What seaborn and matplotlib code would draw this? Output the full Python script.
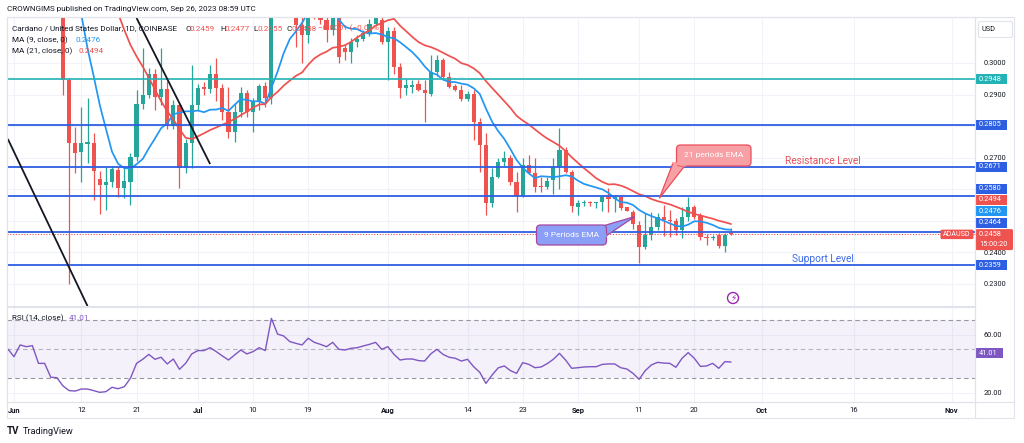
import numpy as np
import pandas as pd
import matplotlib
matplotlib.use("Agg")
import matplotlib.pyplot as plt
import matplotlib.dates as mdates
import matplotlib.ticker as mticker
from matplotlib.patches import FancyBboxPatch, Rectangle, Polygon, Circle
import seaborn as sns

# ---------------- data ----------------
start_date = "2023-05-29"
opens = [0.3750, 0.3720, 0.3700, 0.3630, 0.3580, 0.3700, 0.3680, 0.3700, 0.3450, 0.3440, 0.3300,
         0.3320, 0.2946, 0.2746, 0.2719, 0.2742, 0.2746, 0.2633, 0.2614, 0.2624, 0.2661, 0.2605,
         0.2624, 0.2703, 0.2870, 0.2899, 0.2964, 0.2893, 0.2918, 0.2801, 0.2867, 0.2666, 0.2746,
         0.2867, 0.2924, 0.2918, 0.2964, 0.2922, 0.2846, 0.2782, 0.2844, 0.2904, 0.2846, 0.2878,
         0.2927, 0.2888, 0.3380, 0.3300, 0.3310, 0.3250, 0.3120, 0.3089, 0.3180, 0.3165, 0.3135,
         0.3105, 0.3180, 0.3047, 0.3036, 0.3068, 0.3076, 0.3094, 0.3125, 0.3136, 0.3068, 0.3101,
         0.2988, 0.2920, 0.2925, 0.2932, 0.2914, 0.2901, 0.2971, 0.3010, 0.2957, 0.2927, 0.2914,
         0.2886, 0.2902, 0.2812, 0.2740, 0.2556, 0.2638, 0.2687, 0.2700, 0.2624, 0.2579, 0.2677,
         0.2651, 0.2611, 0.2608, 0.2629, 0.2672, 0.2724, 0.2654, 0.2545, 0.2555, 0.2559, 0.2555,
         0.2559, 0.2576, 0.2570, 0.2577, 0.2543, 0.2529, 0.2487, 0.2416, 0.2455, 0.2482, 0.2511,
         0.2503, 0.2500, 0.2471, 0.2511, 0.2545, 0.2515, 0.2448, 0.2445, 0.2455, 0.2420, 0.2459]
highs = [0.3780, 0.3760, 0.3720, 0.3660, 0.3740, 0.3730, 0.3760, 0.3720, 0.3520, 0.3480, 0.3380,
         0.3360, 0.2952, 0.2798, 0.2862, 0.2888, 0.2777, 0.2659, 0.2670, 0.2673, 0.2670, 0.2670,
         0.2715, 0.2914, 0.3047, 0.2985, 0.2980, 0.3047, 0.2942, 0.2883, 0.2872, 0.2760, 0.2994,
         0.2935, 0.2940, 0.2994, 0.3015, 0.2935, 0.2925, 0.2870, 0.2925, 0.2915, 0.2890, 0.2935,
         0.2940, 0.3420, 0.3440, 0.3340, 0.3330, 0.3260, 0.3150, 0.3190, 0.3220, 0.3180, 0.3170,
         0.3180, 0.3190, 0.3057, 0.3080, 0.3090, 0.3105, 0.3140, 0.3170, 0.3160, 0.3115, 0.3115,
         0.3000, 0.2950, 0.2945, 0.2945, 0.2945, 0.3025, 0.3025, 0.3015, 0.2970, 0.2935, 0.2930,
         0.2910, 0.2915, 0.2825, 0.2777, 0.2668, 0.2700, 0.2720, 0.2710, 0.2655, 0.2700, 0.2710,
         0.2700, 0.2640, 0.2640, 0.2700, 0.2795, 0.2735, 0.2660, 0.2565, 0.2565, 0.2562, 0.2560,
         0.2582, 0.2605, 0.2582, 0.2582, 0.2545, 0.2533, 0.2500, 0.2524, 0.2529, 0.2524, 0.2550,
         0.2535, 0.2510, 0.2545, 0.2577, 0.2550, 0.2524, 0.2459, 0.2455, 0.2460, 0.2462, 0.2477]
lows = [0.3680, 0.3660, 0.3600, 0.3520, 0.3560, 0.3650, 0.3660, 0.3400, 0.3350, 0.3280, 0.3260,
        0.2899, 0.2300, 0.2651, 0.2624, 0.2683, 0.2566, 0.2521, 0.2535, 0.2608, 0.2577, 0.2573,
        0.2550, 0.2690, 0.2855, 0.2890, 0.2851, 0.2867, 0.2790, 0.2791, 0.2603, 0.2650, 0.2666,
        0.2850, 0.2900, 0.2905, 0.2880, 0.2820, 0.2761, 0.2750, 0.2830, 0.2830, 0.2782, 0.2850,
        0.2862, 0.2870, 0.3250, 0.3270, 0.3220, 0.3050, 0.3000, 0.3062, 0.3140, 0.3125, 0.3068,
        0.3090, 0.3000, 0.3010, 0.3000, 0.3050, 0.3070, 0.3085, 0.3120, 0.3060, 0.2946, 0.2965,
        0.2888, 0.2900, 0.2905, 0.2910, 0.2814, 0.2895, 0.2960, 0.2950, 0.2920, 0.2910, 0.2880,
        0.2880, 0.2756, 0.2656, 0.2519, 0.2545, 0.2635, 0.2675, 0.2615, 0.2529, 0.2577, 0.2650,
        0.2590, 0.2590, 0.2600, 0.2585, 0.2600, 0.2650, 0.2529, 0.2520, 0.2548, 0.2548, 0.2540,
        0.2530, 0.2528, 0.2528, 0.2535, 0.2530, 0.2475, 0.2366, 0.2410, 0.2439, 0.2471, 0.2452,
        0.2450, 0.2455, 0.2445, 0.2500, 0.2505, 0.2439, 0.2422, 0.2440, 0.2415, 0.2402, 0.2455]
closes = [0.3720, 0.3700, 0.3630, 0.3580, 0.3700, 0.3680, 0.3700, 0.3450, 0.3440, 0.3300, 0.3320,
          0.2946, 0.2748, 0.2714, 0.2748, 0.2751, 0.2659, 0.2614, 0.2624, 0.2664, 0.2603, 0.2627,
          0.2703, 0.2870, 0.2899, 0.2964, 0.2893, 0.2918, 0.2801, 0.2867, 0.2666, 0.2746, 0.2867,
          0.2922, 0.2918, 0.2964, 0.2922, 0.2846, 0.2782, 0.2844, 0.2904, 0.2846, 0.2878, 0.2927,
          0.2888, 0.3380, 0.3300, 0.3310, 0.3250, 0.3120, 0.3089, 0.3180, 0.3165, 0.3135, 0.3105,
          0.3180, 0.3020, 0.3036, 0.3068, 0.3076, 0.3094, 0.3125, 0.3150, 0.3068, 0.3101, 0.2988,
          0.2920, 0.2930, 0.2931, 0.2914, 0.2904, 0.2971, 0.3010, 0.2957, 0.2925, 0.2914, 0.2886,
          0.2902, 0.2812, 0.2740, 0.2556, 0.2638, 0.2687, 0.2700, 0.2624, 0.2579, 0.2677, 0.2651,
          0.2608, 0.2608, 0.2627, 0.2672, 0.2724, 0.2654, 0.2547, 0.2556, 0.2557, 0.2555, 0.2558,
          0.2574, 0.2570, 0.2575, 0.2541, 0.2532, 0.2490, 0.2416, 0.2455, 0.2482, 0.2511, 0.2503,
          0.2498, 0.2471, 0.2511, 0.2545, 0.2513, 0.2448, 0.2445, 0.2450, 0.2420, 0.2455, 0.2458]

rsi_start = "2023-05-31"
rsi_values = [50.0, 44.7, 52.8, 51.6, 52.3, 40.1, 40.1, 30.5, 30.2, 24.5, 21.3, 21.0, 22.4, 22.4,
              21.3, 20.1, 20.6, 23.6, 22.6, 24.0, 29.8, 40.1, 42.9, 46.3, 42.9, 44.3, 39.7, 43.1,
              36.0, 40.1, 46.6, 48.9, 48.9, 50.9, 48.2, 45.2, 42.4, 45.9, 49.3, 46.6, 48.2, 50.9,
              48.9, 71.1, 60.3, 59.0, 55.1, 53.9, 52.8, 57.4, 54.6, 53.2, 51.6, 54.6, 49.8, 49.3,
              50.5, 50.9, 52.1, 53.2, 54.6, 49.8, 51.6, 46.3, 42.4, 43.1, 43.1, 42.0, 41.7, 46.6,
              49.8, 46.3, 44.3, 43.6, 41.7, 42.9, 37.8, 33.9, 26.3, 32.0, 37.0, 38.3, 35.1, 33.2,
              40.6, 39.4, 37.1, 37.6, 39.9, 42.9, 47.0, 42.4, 36.7, 37.1, 37.6, 37.8, 37.8, 39.4,
              39.7, 39.7, 37.1, 36.2, 33.2, 29.1, 35.1, 39.0, 40.8, 40.3, 40.1, 37.4, 43.6, 47.5,
              43.6, 38.0, 38.3, 40.1, 36.7, 41.3, 41.01]

tick_dates = ["2023-06-01", "2023-06-12", "2023-06-21", "2023-07-01", "2023-07-10", "2023-07-19",
              "2023-08-01", "2023-08-14", "2023-08-23", "2023-09-01", "2023-09-11", "2023-09-20",
              "2023-10-01", "2023-10-16", "2023-11-01"]
price_ticks = [0.23, 0.24, 0.25, 0.26, 0.27, 0.28, 0.29, 0.30]
rsi_ticks = [20, 60]
blue_levels = [0.2805, 0.2671, 0.2580, 0.2464, 0.2359]
teal_level = 0.2948
last_price = 0.2458
ma9_last, ma21_last, rsi_last = 0.2476, 0.2494, 41.01
trend_lines = [(("2023-05-31", 0.27593), ("2023-06-13", 0.2230)),
               (("2023-06-21", 0.31425), ("2023-07-03", 0.2680))]

# ---------------- style ----------------
sns.set_theme(style="white")
plt.rcParams['font.family'] = ['Roboto', 'DejaVu Sans']
GREEN, RED = '#26a69a', '#ef5350'
BLUE_LINE, TEAL = '#2d5fe3', '#22b3b6'
TXT, BORDER, GRID = '#131722', '#e0e3eb', '#f0f3fa'

W, H = 1024, 443
fig = plt.figure(figsize=(W / 100, H / 100), dpi=100)
fig.patch.set_facecolor('white')


def rect(l, t, r, b):
    return [l / W, 1 - b / H, (r - l) / W, (b - t) / H]


ax = fig.add_axes(rect(7, 17, 975, 306))
axr = fig.add_axes(rect(7, 307, 975, 402), sharex=ax)

dates = pd.date_range(start_date, periods=len(closes), freq='D')
x = mdates.date2num(dates)
o, h, l, c = map(np.array, (opens, highs, lows, closes))
jun1 = mdates.date2num(pd.Timestamp("2023-06-01"))
ax.set_xlim(jun1 - 1.14, jun1 + 156.8)
ax.set_ylim(0.22303, 0.31457)
axr.set_ylim(13.45, 78.97)

# grid
tx = mdates.date2num(pd.to_datetime(tick_dates))
ax.set_xticks(tx)
ax.set_yticks(price_ticks)
ax.grid(True, color=GRID, lw=0.8, zorder=0)
axr.set_yticks(rsi_ticks)
axr.grid(True, color=GRID, lw=0.8, zorder=0)

# candles
cols = np.where(c >= o, GREEN, RED)
ax.vlines(x, l, h, colors=cols, lw=0.9, zorder=3)
body = np.maximum(np.abs(c - o), 0.00032)
ax.bar(x, body, bottom=np.minimum(o, c), width=0.68, color=cols, linewidth=0, zorder=4)

# moving averages
cs = pd.Series(c)
ma9 = cs.rolling(9).mean().values
ma21 = cs.rolling(21).mean().values
m9 = ~np.isnan(ma9)
m21 = ~np.isnan(ma21)
sns.lineplot(x=x[m9], y=ma9[m9], ax=ax, color='#2196f3', lw=1.25, zorder=5)
sns.lineplot(x=x[m21], y=ma21[m21], ax=ax, color='#f0504f', lw=1.25, zorder=5)

# levels
for v in blue_levels:
    ax.axhline(v, color=BLUE_LINE, lw=1.3, zorder=6)
ax.axhline(teal_level, color=TEAL, lw=1.2, zorder=6)
ax.axhline(last_price, color=RED, lw=0.8, ls=(0, (1, 1.5)), zorder=6)

# trend lines
for (d1, p1), (d2, p2) in trend_lines:
    xs = mdates.date2num(pd.to_datetime([d1, d2]))
    ax.plot(xs, [p1, p2], color='#131722', lw=1.3, zorder=6, solid_capstyle='butt')

# RSI
rx = mdates.date2num(pd.date_range(rsi_start, periods=len(rsi_values), freq='D'))
axr.axhspan(30, 70, color='#7e57c2', alpha=0.08, lw=0, zorder=1)
for lv, colr in ((70, '#9598a1'), (50, '#b2b5be'), (30, '#9598a1')):
    axr.axhline(lv, color=colr, lw=0.8, ls=(0, (4, 3)), zorder=2)
sns.lineplot(x=rx, y=rsi_values, ax=axr, color='#7e57c2', lw=1.0, zorder=4)

# axes styling
for a in (ax, axr):
    a.set_xlabel('')
    a.set_ylabel('')
    a.set_facecolor('white')
    for s in a.spines.values():
        s.set_color(BORDER)
        s.set_linewidth(0.8)
    a.yaxis.tick_right()
    a.tick_params(axis='y', length=0, pad=6, labelsize=5.3, labelcolor=TXT)
ax.tick_params(axis='x', length=0, labelbottom=False)
axr.yaxis.set_major_formatter(mticker.FormatStrFormatter('%.2f'))
tlabels = [d.strftime('%b') if d.day == 1 else str(d.day) for d in pd.to_datetime(tick_dates)]
axr.set_xticks(tx)
axr.set_xticklabels(tlabels)
axr.tick_params(axis='x', length=0, pad=3.5, labelsize=5.5, labelcolor=TXT)
for t, d in zip(axr.get_xticklabels(), pd.to_datetime(tick_dates)):
    if d.day == 1:
        t.set_fontweight('bold')

# ---------------- overlay (pixel space) ----------------
ov = fig.add_axes([0, 0, 1, 1], zorder=10)
ov.set_xlim(0, W)
ov.set_ylim(H, 0)
ov.axis('off')
ov.patch.set_alpha(0)


def px(a, xd, yd):
    dx, dy = a.transData.transform((xd, yd))
    return dx, H - dy


def py(v):
    return px(ax, ax.get_xlim()[0], v)[1]


# price labels with stacking (positions first, so axis ticks hidden behind them can be dropped)
cur_y = py(last_price)
labels = [(0.2464, BLUE_LINE), (ma9_last, '#2196f3'), (ma21_last, RED), (0.2580, BLUE_LINE),
          (0.2671, BLUE_LINE), (0.2805, BLUE_LINE), (teal_level, TEAL)]
placed = []
prev = cur_y
for v, colr in sorted(labels):
    yy = min(py(v), prev - 11.4)
    prev = yy
    placed.append((v, colr, yy))
placed.append((0.2359, BLUE_LINE, py(0.2359)))
occupied = [p[2] for p in placed] + [cur_y]
tick_txt = []
for t in price_ticks:
    ty = py(t)
    tick_txt.append('' if min(abs(ty - oy) for oy in occupied) < 8.5 else f"{t:.4f}")
ax.yaxis.set_major_locator(mticker.FixedLocator(price_ticks))
ax.yaxis.set_major_formatter(mticker.FixedFormatter(tick_txt))

# outer frame
ov.add_patch(Rectangle((7, 17), 1007, 401, fill=False, ec=BORDER, lw=0.8))
ov.plot([7, 1014], [402, 402], color=BORDER, lw=0.8)
ov.plot([975, 975], [17, 418], color=BORDER, lw=0.8)

# header text
ov.text(7, 9, "CROWNGIMS published on TradingView.com, Sep 26, 2023 08:59 UTC",
        fontsize=5.8, color=TXT, va='center', ha='left')

# legend lines
FS = 5.9
ov.text(11.5, 28.5, "Cardano / United States Dollar, 1D, COINBASE", fontsize=FS, color=TXT, va='center')
for xx, lab, val in ((185, 'O', '0.2459'), (220, 'H', '0.2477'), (253, 'L', '0.2455'), (286.5, 'C', '0.2458')):
    ov.text(xx, 28.5, lab, fontsize=FS, color=TXT, va='center')
    ov.text(xx + 4.8, 28.5, val, fontsize=FS, color=RED, va='center')
ov.text(318, 28.5, "\u22120.0001 (\u22120.04%)", fontsize=FS, color=RED, va='center')
ov.text(11.5, 40, "MA (9, close, 0)", fontsize=FS, color=TXT, va='center')
ov.text(76, 40, f"{ma9_last:.4f}", fontsize=FS, color='#2196f3', va='center')
ov.text(11.5, 51, "MA (21, close, 0)", fontsize=FS, color=TXT, va='center')
ov.text(78.5, 51, f"{ma21_last:.4f}", fontsize=FS, color=RED, va='center')
ov.text(12, 318.5, "RSI (14, close)", fontsize=FS, color=TXT, va='center')
ov.text(68.5, 318.5, f"{rsi_last:.2f}", fontsize=FS, color='#7e57c2', va='center')

# USD box
ov.add_patch(FancyBboxPatch((978.5, 21.5), 34, 16, boxstyle='round,pad=0,rounding_size=2',
                            fc='white', ec=BORDER, lw=0.8))
ov.text(982, 29.5, "USD", fontsize=5.3, color=TXT, va='center')

for v, colr, yy in placed:
    ov.add_patch(Rectangle((975.5, yy - 5), 31.5, 10, fc=colr, ec='none'))
    ov.text(979, yy, f"{v:.4f}", fontsize=5.3, color='white', va='center')
# current price
ov.add_patch(FancyBboxPatch((975.5, cur_y - 5), 37.5, 21, boxstyle='round,pad=0,rounding_size=1.5',
                            fc=RED, ec='none'))
ov.text(979, cur_y, f"{last_price:.4f}", fontsize=5.3, color='white', va='center')
ov.text(979, cur_y + 10, "15:00:20", fontsize=5.3, color='white', va='center')
ov.add_patch(FancyBboxPatch((940.5, cur_y - 4.5), 33, 9.5, boxstyle='round,pad=0,rounding_size=1.5',
                            fc=RED, ec='none'))
ov.text(957, cur_y, "ADAUSD", fontsize=5.1, color='white', va='center', ha='center')
# RSI value label
ry = px(axr, rx[-1], rsi_last)[1] - 9
ov.add_patch(Rectangle((975.5, ry - 5), 27.5, 10, fc='#7e57c2', ec='none'))
ov.text(979, ry, f"{rsi_last:.2f}", fontsize=5.3, color='white', va='center')


# callouts
def callout(box, tip, base, text, fc, ec):
    (x0, y0, x1, y1) = box
    ov.add_patch(Polygon([base[0], base[1], tip], closed=True, fc=fc, ec=ec, lw=0.9, zorder=11))
    ov.add_patch(FancyBboxPatch((x0, y0), x1 - x0, y1 - y0, boxstyle='round,pad=0,rounding_size=4',
                                fc=fc, ec=ec, lw=0.9, zorder=12))
    ov.plot([base[0][0], base[1][0]], [base[0][1], base[1][1]], color=fc, lw=1.5, zorder=13)
    ov.text((x0 + x1) / 2, (y0 + y1) / 2, text, fontsize=6, color='white', ha='center',
            va='center', zorder=14)


tip21 = px(ax, mdates.date2num(pd.Timestamp("2023-09-14")) + 0.3, 0.25714)
callout((676.5, 145, 751, 166), tip21, [(673, 163), (685, 165.5)], "21 periods EMA", '#f7a1a6', '#ec4d5c')
tip9 = px(ax, mdates.date2num(pd.Timestamp("2023-09-10")) + 0.3, 0.25137)
callout((536.5, 225, 606.5, 245), tip9, [(601, 226.5), (606, 236)], "9 Periods EMA", '#8c9ff7', '#a5469c')

# level texts
rx_txt = mdates.date2num(pd.Timestamp("2023-10-11"))
xr, yr = px(ax, rx_txt, 0.2690)
ov.text(xr, yr, "Resistance Level", fontsize=7.3, color='#e5505a', ha='center', va='center')
xs_, ys_ = px(ax, rx_txt, 0.2379)
ov.text(xs_, ys_, "Support Level", fontsize=7.3, color='#3d6ae6', ha='center', va='center')

# lightning icon
ov.add_patch(Circle((733, 298), 5.5, fc='white', ec='#9c27b0', lw=1.0))
ov.text(733, 298.5, "\u26a1", fontsize=6.5, color='#9c27b0', ha='center', va='center',
        family=['DejaVu Sans'])

# TradingView logo
ov.text(7, 431, "TV", fontsize=7, color=TXT, fontweight='bold', va='center')
ov.text(23, 431, "TradingView", fontsize=6.6, color=TXT, va='center')

fig.savefig("out.png", dpi=100)
